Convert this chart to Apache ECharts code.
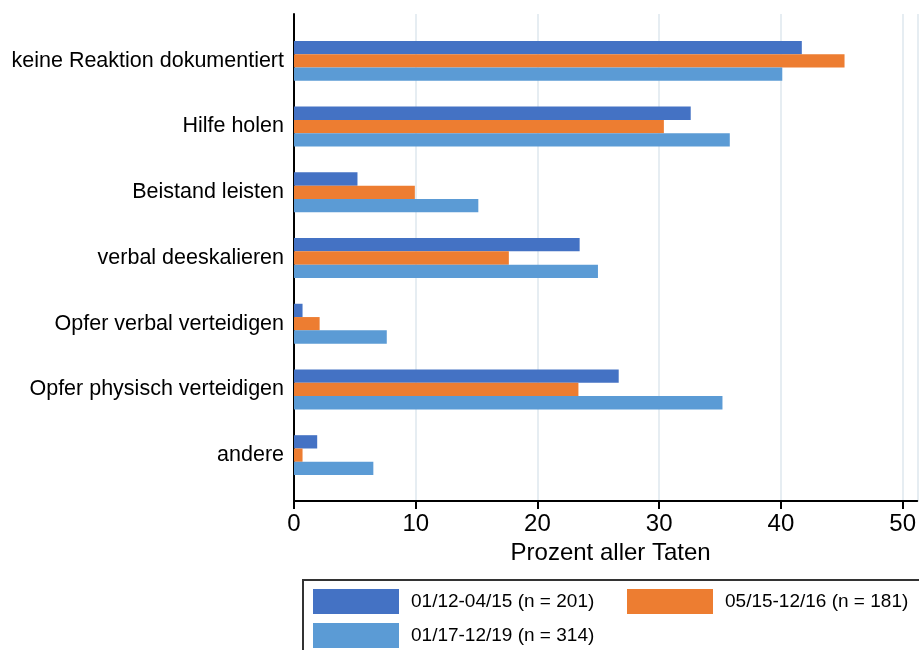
<!DOCTYPE html>
<html>
<head>
<meta charset="utf-8">
<script src="https://cdn.jsdelivr.net/npm/echarts@6/dist/echarts.min.js"></script>
<style>
  html, body { margin: 0; padding: 0; background: #fff; }
  #main { width: 919px; height: 650px; }
</style>
</head>
<body>
<div id="main"></div>
<script>
// Kategorien von oben nach unten
var categories = ['keine Reaktion dokumentiert', 'Hilfe holen', 'Beistand leisten',
    'verbal deeskalieren', 'Opfer verbal verteidigen', 'Opfer physisch verteidigen', 'andere'];
var seriesNames = ['01/12-04/15 (n = 201)', '05/15-12/16 (n = 181)', '01/17-12/19 (n = 314)'];
var period1 = [41.6, 32.5, 5.2, 23.4, 0.7, 26.6, 1.9];
var period2 = [45.1, 30.3, 9.9, 17.6, 2.1, 23.3, 0.7];
var period3 = [40.0, 35.7, 15.1, 24.9, 7.6, 35.1, 6.5];
var xTicks = [0, 10, 20, 30, 40, 50];

var font = 'Liberation Sans, Arial, sans-serif';
var colors = ['#4472C4', '#ED7D31', '#5B9BD5'];

var legendBase = {
    padding: 0, itemWidth: 86, itemHeight: 25, itemGap: 9,
    icon: 'rect', orient: 'vertical',
    textStyle: {fontSize: 19, color: '#000', padding: [0, 0, 0, 7]}
};

var myChart = echarts.init(document.getElementById('main'));
var option = {
    animation: false,
    color: colors,
    textStyle: {fontFamily: font},
    grid: [
        {left: 294, width: 625, top: 14, height: 487},   // Achsen
        {left: 294, width: 625, top: 28, height: 460}    // Balken
    ],
    xAxis: [
        {
            gridIndex: 0, type: 'value', min: 0, max: 51.2, interval: 10,
            name: 'Prozent aller Taten', nameLocation: 'middle', nameGap: 39,
            nameTextStyle: {fontSize: 24, color: '#000', fontFamily: font, padding: [0, 0, 0, 10]},
            axisLine: {show: true, lineStyle: {color: '#000', width: 2}},
            axisTick: {show: true, length: 8, lineStyle: {color: '#000', width: 2}},
            axisLabel: {
                fontSize: 24, color: '#000', margin: 11, showMaxLabel: false,
                formatter: function (v) { return xTicks.indexOf(v) >= 0 ? v : ''; }
            },
            splitLine: {show: true, lineStyle: {color: '#e6edf2', width: 2}}
        },
        {gridIndex: 1, type: 'value', min: 0, max: 51.2, show: false}
    ],
    yAxis: [
        {
            gridIndex: 0, type: 'value', min: 0, max: 1,
            axisLine: {show: true, lineStyle: {color: '#000', width: 2}},
            axisTick: {show: false}, axisLabel: {show: false}, splitLine: {show: false}
        },
        {
            gridIndex: 1, type: 'category', inverse: true, data: categories,
            axisLine: {show: false}, axisTick: {show: false},
            axisLabel: {fontSize: 21.5, color: '#000', margin: 10}
        }
    ],
    legend: [
        Object.assign({left: 313, top: 589, data: [seriesNames[0], seriesNames[2]]}, legendBase),
        Object.assign({left: 627, top: 589, data: [seriesNames[1]]}, legendBase)
    ],
    graphic: [{
        type: 'rect', z: -1,
        shape: {x: 303, y: 580, width: 700, height: 100},
        style: {fill: 'none', stroke: '#333', lineWidth: 2}
    }],
    series: [
        {name: seriesNames[0], type: 'bar', xAxisIndex: 1, yAxisIndex: 1, data: period1, barWidth: 13.3, barGap: '0%'},
        {name: seriesNames[1], type: 'bar', xAxisIndex: 1, yAxisIndex: 1, data: period2, barWidth: 13.3, barGap: '0%'},
        {name: seriesNames[2], type: 'bar', xAxisIndex: 1, yAxisIndex: 1, data: period3, barWidth: 13.3, barGap: '0%'}
    ]
};
myChart.setOption(option);
</script>
</body>
</html>
